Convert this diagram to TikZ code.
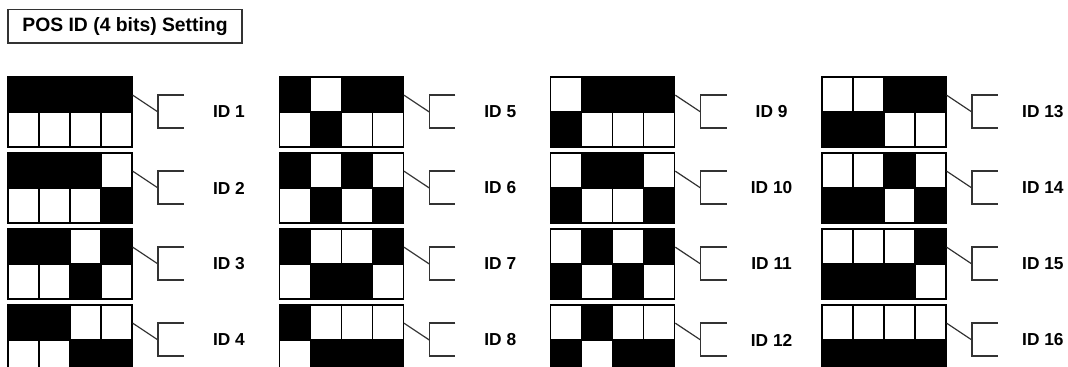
\documentclass[tikz,border=0pt]{standalone}
\usepackage{fontspec}
\setmainfont{Liberation Sans}
\usepackage{tikz}
\usetikzlibrary{
  calc,
  positioning
}
\definecolor{dipInk}{HTML}{000000}
\definecolor{dipLead}{HTML}{333333}
\tikzset{
  titleBox/.style={
    draw=dipLead,
    line width=1pt,
    minimum width=175.5pt,
    minimum height=25pt,
    inner sep=0pt,
    font=\fontsize{14.5}{16}\selectfont\bfseries
  },
  dipFrame/.style={
    draw=dipInk,
    line width=1.1pt,
    minimum width=93pt,
    minimum height=52.5pt,
    inner sep=0pt
  },
  dipGrid/.style={dipInk, line width=1pt},
  dipOn/.style={fill=dipInk},
  leadLine/.style={dipLead, line width=0.9pt},
  idLabel/.style={font=\fontsize{13}{15}\selectfont\bfseries, inner sep=0pt}
}

\begin{document}
\begin{tikzpicture}[x=0.75pt,y=-0.75pt]
  \useasboundingbox (0,0) rectangle (1068,367);
  \clip (0,0) rectangle (1068,367);
  \node[titleBox] (title) at (125,26.5) {POS ID (4 bits) Setting};

  \foreach \id in {1,...,16} {
    \pgfmathtruncatemacro{\col}{div(\id-1,4)}
    \pgfmathtruncatemacro{\row}{mod(\id-1,4)}
    \pgfmathtruncatemacro{\code}{16-\id}
    \begin{scope}[shift={(8+271.3*\col,77+76*\row)}]
      % one switch: a black lever up (bit set) or down
      \foreach \b in {0,...,3} {
        \pgfmathtruncatemacro{\on}{mod(div(\code,2^(3-\b)),2)}
        \pgfmathsetmacro{\by}{35*(1-\on)}
        \fill[dipOn] (31*\b,\by) rectangle ++(31,35);
      }
      \draw[dipGrid] (0,35) -- (124,35);
      \foreach \gx in {31,62,93}
        \draw[dipGrid] (\gx,0) -- (\gx,70);
      \node[dipFrame] (sw\id) at (62,35) {};
      \coordinate (br\id) at (150,35);
      \draw[leadLine] (176,18) -- (150,18) -- (150,51) -- (176,51);
      \draw[leadLine] (sw\id.15) -- (br\id);
      \node[idLabel] (lab\id) at (221,35) {ID \id};
    \end{scope}
  }
\end{tikzpicture}
\end{document}
